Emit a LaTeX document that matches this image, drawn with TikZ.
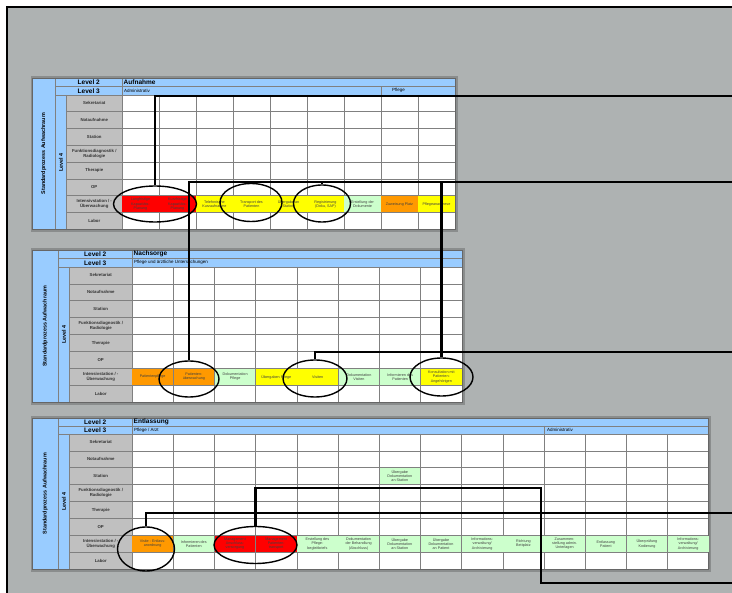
\documentclass[tikz,border=0pt]{standalone}
\usepackage{fontspec}
\setmainfont{Liberation Sans}
\usetikzlibrary{positioning,shapes.geometric}

\definecolor{sheetgray}{HTML}{AEB2B2}
\definecolor{shadegray}{HTML}{8A8D8D}
\definecolor{headblue}{HTML}{99CCFF}
\definecolor{labelgray}{HTML}{C0C0C0}
\definecolor{rulegray}{HTML}{808080}
\definecolor{taskred}{HTML}{FF0000}
\definecolor{taskyellow}{HTML}{FFFF00}
\definecolor{taskorange}{HTML}{FF9900}
\definecolor{taskgreen}{HTML}{CCFFCC}

\begin{document}
\begin{tikzpicture}[
		x=1pt, y=-1pt,
		gridline/.style={draw=rulegray, line width=0.6pt},
		lanelabel/.style={inner sep=0pt, align=center, text=black!80, font=\bfseries\fontsize{4.3}{5}\selectfont},
		headtext/.style={inner sep=0pt, font=\bfseries\fontsize{6.5}{7}\selectfont},
		subtext/.style={inner sep=0pt, font=\fontsize{4.5}{5}\selectfont},
		task/.style={rectangle, fill=#1, inner sep=0pt, align=center, minimum height=16pt, text=black!75, font=\fontsize{3.7}{4.2}\selectfont},
		ring/.style={ellipse, draw=black, line width=1.4pt, inner sep=0pt},
		link/.style={draw=black, line width=2.3pt}
		]
		
		%==================== Sheet ====================%
		\useasboundingbox (0,0) rectangle (732,593);
		\fill[white] (0,0) rectangle (732,593);
		\fill[sheetgray] (7,7) rectangle (732,593);
		\draw[line width=1.6pt] (7,593) -- (7,7) -- (732,7);
		
		%==================== Tables ====================%
		\foreach \ty/\dx/\cw/\nc/\bx/\cx/\rh/\hh/\lvtwo/\lvthree in {
			78/122/37/9/55.5/66.5/16.8/8.5/Aufnahme/Administrativ,
			250/132/41.25/8/58.5/69.5/16.9/8.5/Nachsorge/{Pflege und ärztliche Untersuchungen},
			418/132/41.2/14/58.5/69.5/16.9/8/Entlassung/{Pflege / Arzt}}{
			\pgfmathsetmacro\ex{\dx+\nc*\cw}
			\pgfmathsetmacro\ry{\ty+2*\hh}
			\pgfmathsetmacro\by{\ry+8*\rh}
			\fill[shadegray] (30.5,\ty-1.5) rectangle (\ex+2.5,\by+2.5);
			\fill[white] (\dx,\ry) rectangle (\ex,\by);
			\fill[headblue] (32,\ty) rectangle (\ex,\ry);
			\fill[headblue] (32,\ty) rectangle (\cx,\by);
			\fill[labelgray] (\cx,\ry) rectangle (\dx,\by);
			\foreach \i in {1,...,7}
				\draw[gridline] (\cx,\ry+\i*\rh) -- (\ex,\ry+\i*\rh);
			\foreach \j in {1,...,\nc}
				\draw[gridline] (\dx+\j*\cw,\ry) -- (\dx+\j*\cw,\by);
			\draw[gridline] (\bx,\ty+\hh) -- (\ex,\ty+\hh);
			\draw[gridline] (\bx,\ry) -- (\ex,\ry);
			\draw[gridline] (\bx,\ty) -- (\bx,\by);
			\draw[gridline] (\cx,\ry) -- (\cx,\by);
			\draw[gridline] (\dx,\ty) -- (\dx,\by);
			\draw[draw=black!60, line width=0.8pt] (32,\ty) rectangle (\ex,\by);
			
			\node[headtext] (lvtwo\ty) at ({(\bx+\dx)/2},\ty+\hh/2) {Level 2};
			\node[headtext] (lvthree\ty) at ({(\bx+\dx)/2},\ty+1.5*\hh) {Level 3};
			\node[headtext, anchor=west] (phase\ty) at (\dx+1.5,\ty+\hh/2) {\lvtwo};
			\node[subtext, anchor=west] (area\ty) at (\dx+2,\ty+1.5*\hh) {\lvthree};
			\node[headtext, rotate=90, font=\bfseries\fontsize{5.4}{6}\selectfont] (proc\ty) at ({(32+\bx)/2},{(\ty+\by)/2}) {Standardprozess Aufwachraum};
			\node[headtext, rotate=90, font=\bfseries\fontsize{5.4}{6}\selectfont] (lvfour\ty) at ({(\bx+\cx)/2},{(\ry+\by)/2}) {Level 4};
			\foreach \i/\lbl in {0/Sekretariat, 1/Notaufnahme, 2/Station, 3/{Funktionsdiagnostik /\\Radiologie}, 4/Therapie, 5/OP, 6/{Intensivstation / -\\Überwachung}, 7/Labor}
				\node[lanelabel] (row\ty-\i) at ({(\cx+\dx)/2},\ry+\i*\rh+\rh/2) {\lbl};
		}
		
		% second lane heads in level 3
		\draw[gridline] (381,86.5) -- (381,95);
		\node[subtext, anchor=west] (areaB78) at (392,90.75) {Pflege};
		\draw[gridline] (544,426) -- (544,434);
		\node[subtext, anchor=west] (areaB418) at (547,430) {Administrativ};
		
		%==================== Tasks ====================%
		\foreach \c/\clr/\txt in {
			1/taskred/{Langfristige\\Kapazitäts-\\Planung},
			2/taskred/{Kurzfristige\\Kapazitäts-\\Planung},
			3/taskyellow/{Telefonische\\Kurzaufnahme},
			4/taskyellow/{Transport des\\Patienten},
			5/taskyellow/{Übergabe an\\Station},
			6/taskyellow/{Registrierung\\(Doku, SAP)},
			7/taskgreen/{Erstellung der\\Dokumente},
			8/taskorange/{Zuweisung Platz},
			9/taskyellow/{Pflegeanamnese}}
			\node[task=\clr, minimum width=36.4pt] (aufn\c) at ({122+(\c-0.5)*37},{95+6.5*16.8}) {\txt};
		
		\foreach \c/\clr/\txt in {
			1/taskorange/{Patientenpflege},
			2/taskorange/{Patienten-\\überwachung},
			3/taskgreen/{Dokumentation\\Pflege},
			4/taskyellow/{Übergaben Pflege},
			5/taskyellow/{Visiten},
			6/taskgreen/{Dokumentation\\Visiten},
			7/taskgreen/{Informieren des\\Patienten},
			8/taskyellow/{Konsultation mit\\Patienten-\\Angehörigen}}
			\node[task=\clr, minimum width=40.6pt] (nach\c) at ({132+(\c-0.5)*41.25},{267+6.5*16.9}) {\txt};
		
		\foreach \c/\clr/\txt in {
			1/taskorange/{Visite - Entlass-\\anordnung},
			2/taskgreen/{Informieren des\\Patienten},
			3/taskred/{Management\\Anschluss-\\versorgung},
			4/taskred/{Management\\Patienten-\\transport},
			5/taskgreen/{Erstellung des\\Pflege-\\begleitbriefs},
			6/taskgreen/{Dokumentation\\der Behandlung\\(Abschluss)},
			7/taskgreen/{Übergabe\\Dokumentation\\an Station},
			8/taskgreen/{Übergabe\\Dokumentation\\an Patient},
			9/taskgreen/{Informations-\\verwaltung/\\Archivierung},
			10/taskgreen/{Richtung\\Bettplatz},
			11/taskgreen/{Zusammen-\\stellung admin.\\Unterlagen},
			12/taskgreen/{Entlassung\\Patient},
			13/taskgreen/{Überprüfung\\Kodierung},
			14/taskgreen/{Informations-\\verwaltung/\\Archivierung}}
			\node[task=\clr, minimum width=40.6pt] (entl\c) at ({132+(\c-0.5)*41.2},{434+6.5*16.9}) {\txt};
		\node[task=taskgreen, minimum width=40.6pt] (entlStation) at ({132+6.5*41.2},{434+2.5*16.9}) {Übergabe\\Dokumentation\\an Station};
		
		%==================== Rings ====================%
		\node[ring, minimum width=83pt, minimum height=36pt] (ringKap) at (155,204) {};
		\node[ring, minimum width=62pt, minimum height=38pt] (ringTrans) at (251,202.5) {};
		\node[ring, minimum width=57pt, minimum height=37pt] (ringReg) at (322,203.5) {};
		\node[ring, minimum width=60pt, minimum height=36pt] (ringUeb) at (189,379) {};
		\node[ring, minimum width=64pt, minimum height=37pt] (ringVis) at (315,378.5) {};
		\node[ring, minimum width=63pt, minimum height=38pt] (ringKons) at (441.5,377) {};
		\node[ring, minimum width=57pt, minimum height=44pt] (ringEnt) at (146,549) {};
		\node[ring, minimum width=83pt, minimum height=37pt] (ringMgmt) at (255.5,545) {};
		
		%==================== Links ====================%
		\coordinate (outA) at (732,96);
		\coordinate (outB) at (732,182);
		\coordinate (outC) at (732,352);
		\coordinate (outD) at (732,513);
		\coordinate (outE) at (732,583);
		\coordinate (bendE) at (541,488);
		
		\draw[link] (ringKap.north) |- (outA);
		\draw[link] (ringUeb.north) |- (outB);
		\draw[link] (ringTrans.north) -- (ringTrans.north |- outB);
		\draw[link] (ringReg.north) -- (ringReg.north |- outB);
		\draw[link] (ringKons.north) -- (ringKons.north |- outB);
		\draw[link] (ringVis.north) |- (outC);
		\draw[link] (ringEnt.north) |- (outD);
		\draw[link] (ringMgmt.north) |- (bendE) |- (outE);
		
	\end{tikzpicture}
\end{document}
